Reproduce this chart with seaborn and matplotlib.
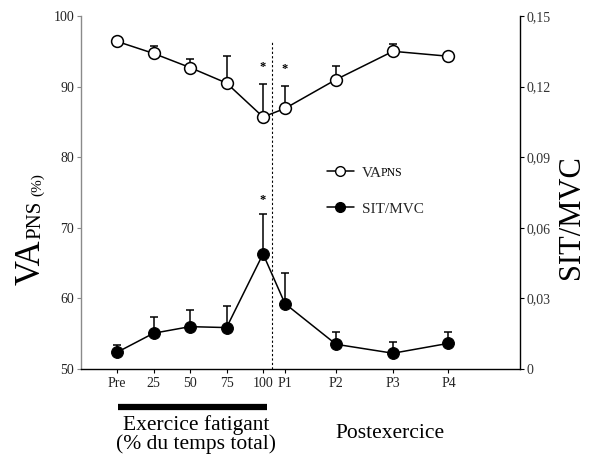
import matplotlib
matplotlib.use("Agg")
import matplotlib.pyplot as plt
from matplotlib.lines import Line2D
import matplotlib.transforms as mtransforms
import seaborn as sns
import numpy as np

# ---- data ----
time_labels = ["Pre", "25", "50", "75", "100", "P1", "P2", "P3", "P4"]
time_pos = [0, 25, 50, 75, 100, 115, 150, 189, 227]
va_pns = [96.4, 94.7, 92.7, 90.5, 85.7, 86.9, 91.0, 95.0, 94.3]
va_err = [0.3, 1.0, 1.2, 3.9, 4.6, 3.2, 1.9, 1.0, 0.5]
sit_mvc = [0.0071, 0.0152, 0.0180, 0.0176, 0.0489, 0.0278, 0.0105, 0.0067, 0.0109]
sit_err = [0.0031, 0.0070, 0.0071, 0.0092, 0.0168, 0.0131, 0.0054, 0.0047, 0.0050]
va_star_idx = [4, 5]
sit_star_idx = [4]
left_ticks = [50, 60, 70, 80, 90, 100]
right_ticks = [0, 0.03, 0.06, 0.09, 0.12, 0.15]
right_ticklabels = ["0", "0,03", "0,06", "0,09", "0,12", "0,15"]
end_exercise = 106

sns.set_theme(style="ticks")
plt.rcParams["font.family"] = ["Liberation Serif", "DejaVu Serif"]

W, H = 590, 463
fig = plt.figure(figsize=(W / 100, H / 100), dpi=100)
ax = fig.add_axes([81 / W, 1 - 369 / H, (520 - 81) / W, (369 - 16) / H])
ax2 = ax.twinx()

# VA_PNS (open circles) on left axis
ax.errorbar(time_pos, va_pns, yerr=[np.zeros(len(va_err)), va_err], fmt="none",
            ecolor="black", elinewidth=1.1, capsize=3.2, capthick=1.1, zorder=1)
sns.lineplot(x=time_pos, y=va_pns, ax=ax, color="black", lw=1.1, marker="o",
             markersize=8.5, markerfacecolor="white", markeredgecolor="black",
             markeredgewidth=1.1, zorder=3, sort=False)

# SIT/MVC (filled circles) on right axis
ax2.errorbar(time_pos, sit_mvc, yerr=[np.zeros(len(sit_err)), sit_err], fmt="none",
             ecolor="black", elinewidth=1.1, capsize=3.2, capthick=1.1, zorder=1)
sns.lineplot(x=time_pos, y=sit_mvc, ax=ax2, color="black", lw=1.1, marker="o",
             markersize=8.5, markerfacecolor="black", markeredgecolor="black",
             zorder=3, sort=False)

# significance stars
for i in va_star_idx:
    ax.text(time_pos[i], va_pns[i] + va_err[i] + 1.6, "*", ha="center", va="bottom",
            fontsize=9, color="black", fontweight="bold")
for i in sit_star_idx:
    ax2.text(time_pos[i], sit_mvc[i] + sit_err[i] + 0.0035, "*", ha="center", va="bottom",
             fontsize=9, color="black", fontweight="bold")

# vertical dotted separator
ax.axvline(end_exercise, ymin=0, ymax=0.926, color="black", lw=0.8, ls=(0, (2, 2)), zorder=0)

# axes formatting
ax.set_xlim(-24.7, 276)
ax.set_ylim(50, 100)
ax.set_yticks(left_ticks)
ax.set_xticks(time_pos)
ax.set_xticklabels(time_labels)
ax2.set_ylim(0, 0.15)
ax2.set_yticks(right_ticks)
ax2.set_yticklabels(right_ticklabels)
ax.set_xlabel("")
ax.set_ylabel("")
ax2.set_ylabel("")

for a in (ax, ax2):
    a.spines["top"].set_visible(False)
ax.spines["right"].set_visible(False)
ax.spines["left"].set_color("#8a8a8a")
ax.spines["left"].set_linewidth(1.0)
ax.spines["bottom"].set_color("black")
ax.spines["bottom"].set_linewidth(1.0)
ax2.spines["left"].set_visible(False)
ax2.spines["bottom"].set_visible(False)
ax2.spines["right"].set_color("black")
ax2.spines["right"].set_linewidth(1.0)

ax.tick_params(axis="y", direction="out", length=3, width=0.8, color="#8a8a8a",
               labelsize=10, labelcolor="#222222", pad=2)
ax.tick_params(axis="x", direction="out", length=3, width=0.8, color="black",
               labelsize=10, labelcolor="#222222", pad=3)
ax2.tick_params(axis="y", direction="out", length=3, width=0.8, color="black",
                labelsize=10, labelcolor="#333333", pad=2)

# left y label: "VA" + small "PNS" + "(%)"
t1 = fig.text(40 / W, 1 - 285 / H, "VA", rotation=90, rotation_mode="anchor",
              ha="left", va="baseline", fontsize=25, color="black")
t2 = ax.annotate("PNS", xy=(1, 1), xycoords=t1, xytext=(-5.4, 0.5),
                 textcoords="offset points", rotation=90, rotation_mode="anchor",
                 ha="left", va="baseline", fontsize=15, color="black", annotation_clip=False)
ax.annotate("(%)", xy=(1, 1), xycoords=t2, xytext=(-3.4, 3),
            textcoords="offset points", rotation=90, rotation_mode="anchor",
            ha="left", va="baseline", fontsize=11, color="black", annotation_clip=False)

# right y label
fig.text(586 / W, 1 - 217 / H, "SIT/MVC", rotation=90, ha="right", va="center",
         fontsize=22, color="black")

# legend
handles = [
    Line2D([], [], color="black", lw=1.1, marker="o", markersize=7,
           markerfacecolor="white", markeredgecolor="black"),
    Line2D([], [], color="black", lw=1.1, marker="o", markersize=7,
           markerfacecolor="black", markeredgecolor="black"),
]
leg = ax.legend(handles, ["VA", "SIT/MVC"], loc="upper left",
                bbox_to_anchor=((327 - 81) / (520 - 81), (369 - 166) / (369 - 16)),
                frameon=False, fontsize=11, handlelength=1.75, handletextpad=0.55,
                labelspacing=1.45, borderpad=0, borderaxespad=0)

# exercise bar and group labels
trans = mtransforms.blended_transform_factory(ax.transData, ax.transAxes)
ax.plot([0.7, 103], [-0.108, -0.108], transform=trans, color="black", lw=4.5,
        solid_capstyle="butt", clip_on=False)
fig.text(196 / W, 1 - 425 / H, "Exercice fatigant", ha="center", va="center",
         fontsize=15.5, color="black")
fig.text(196 / W, 1 - 444 / H, "(% du temps total)", ha="center", va="center",
         fontsize=15.5, color="black")
fig.text(390 / W, 1 - 433 / H, "Postexercice", ha="center", va="center",
         fontsize=15.5, color="black")

# small-caps "PNS" after the legend's "VA"
fig.canvas.draw()
bb = leg.get_texts()[0].get_window_extent(fig.canvas.get_renderer())
fig.text(bb.x1 - 1.5, bb.y0 + 3.3, "PNS", transform=mtransforms.IdentityTransform(),
         ha="left", va="baseline", fontsize=8.5, color="black")

fig.savefig("out.png", dpi=100, facecolor="white")
